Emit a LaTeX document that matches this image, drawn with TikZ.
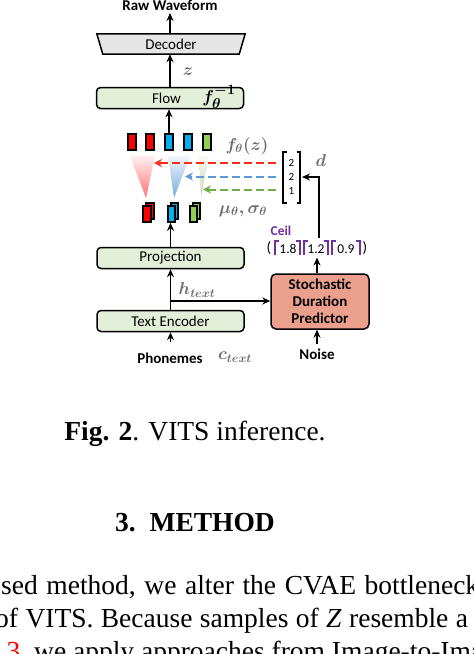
\documentclass[tikz,border=0pt]{standalone}
\usepackage{fontspec}
\setmainfont{Liberation Serif}
\newfontfamily\diafont{Carlito}
\usetikzlibrary{arrows.meta}
\definecolor{boxgreen}{HTML}{E2F0D9}
\definecolor{decgray}{HTML}{E7E6E6}
\definecolor{sdpred}{HTML}{EBA08E}
\definecolor{cred}{HTML}{FF0000}
\definecolor{cblue}{HTML}{00B0F0}
\definecolor{cgreen}{HTML}{92D050}
\definecolor{dred}{HTML}{FF2A1A}
\definecolor{dblue}{HTML}{5B9BD5}
\definecolor{dgreen}{HTML}{70AD47}
\definecolor{ceilpurple}{HTML}{7030A0}
\definecolor{mathgray}{HTML}{6E6E6E}
\begin{document}
\begin{tikzpicture}[x=1pt,y=-1pt,
  box/.style={draw=black, line width=1.5pt, rounded corners=4pt, fill=boxgreen,
    minimum width=147pt, minimum height=21pt, inner sep=0pt,
    font=\diafont\fontsize{15}{18}\selectfont},
  lbl/.style={inner sep=0pt, font=\diafont\fontsize{15}{18}\selectfont},
  blbl/.style={inner sep=0pt, font=\diafont\bfseries\fontsize{15}{18}\selectfont},
  mlbl/.style={inner sep=0pt, text=mathgray, font=\fontsize{17}{20}\selectfont\boldmath},
  arr/.style={line width=1.6pt, -{Stealth[length=8pt,width=7pt]}},
  vecbox/.style={draw=black, line width=1.8pt, minimum width=7.5pt, minimum height=16pt, inner sep=0pt},
  dsh/.style={line width=2pt, dash pattern=on 8pt off 4pt, -{Stealth[length=8pt,width=8pt]}},
  ceilbr/.style={draw=ceilpurple, line width=2pt},
  matbr/.style={draw=black, line width=1.8pt},
  num/.style={inner sep=0pt, font=\diafont\fontsize{13.5}{16}\selectfont},
  body/.style={inner sep=0pt, anchor=base west, font=\fontsize{27.5}{33}\selectfont}
]
\useasboundingbox (0,0) rectangle (474,654);
\clip (0,0) rectangle (474,654);
\fill[white] (0,0) rectangle (474,654);

% ---- top: raw waveform and decoder
\node[blbl, anchor=base] (raw) at (170,10.5) {Raw Waveform};
\coordinate (rawbot) at (170,13);
\node[lbl, minimum width=146pt, minimum height=20pt] (dec) at (171,44) {};
\draw[line width=1.5pt, fill=decgray] ([xshift=-1pt]dec.north west) -- ([xshift=1pt]dec.north east) -- ([xshift=-5pt]dec.south east) -- ([xshift=5pt]dec.south west) -- cycle;
\node[lbl] (dectxt) at (171,44) {Decoder};
\draw[arr] (dec.north -| rawbot) -- (rawbot);

% ---- flow
\node[box] (flow) at (170,98) {};
\node[lbl] (flowtxt) at (166.5,98) {Flow};
\node[inner sep=0pt, font=\fontsize{19}{20}\selectfont\boldmath] (finv) at (219,97) {$f_\theta^{-1}$};
\draw[arr] (flow.north) -- (flow.north |- dec.south);
\node[mlbl] (zlbl) at (188,72) {$z$};

% ---- top row of vectors
\node[vecbox, fill=cred]   (r1) at (132,142) {};
\node[vecbox, fill=cred]   (r2) at (150,142) {};
\node[vecbox, fill=cblue]  (r3) at (169,142) {};
\node[vecbox, fill=cblue]  (r4) at (188,142) {};
\node[vecbox, fill=cgreen] (r5) at (207,142) {};
\draw[arr] (r3.north) -- (r3.north |- flow.south);
\node[mlbl, font=\fontsize{18}{20}\selectfont\boldmath] (fz) at (247,146) {$f_\theta(z)$};

% ---- shaded triangles
\shade[top color=red!6, bottom color=red!55] (130,156) -- (155,156) -- (146,198) -- cycle;
\shade[top color=dblue!8, bottom color=dblue!85] (168,156) -- (190,156) -- (174,198) -- cycle;
\shade[top color=dgreen!6, bottom color=dgreen!45] (199,156) -- (209,156) -- (201,197) -- cycle;

% ---- duration matrix
\node[num, font=\diafont\fontsize{11}{13}\selectfont] (m1) at (291.5,163) {2};
\node[num, font=\diafont\fontsize{11}{13}\selectfont] (m2) at (291.5,177) {2};
\node[num, font=\diafont\fontsize{11}{13}\selectfont] (m3) at (291.5,191) {1};
\draw[matbr] (286.5,152) -- (283,152) -- (283,203) -- (286.5,203);
\draw[matbr] (296.5,152) -- (300,152) -- (300,203) -- (296.5,203);
\node[mlbl] (dlbl) at (321,160) {$d$};

% ---- dashed arrows
\coordinate (ds1) at (276,163); \coordinate (de1) at (154,163);
\coordinate (ds2) at (276,176.5); \coordinate (de2) at (185,176.5);
\coordinate (ds3) at (276,189.5); \coordinate (de3) at (203,189.5);
\draw[dsh, dred] (ds1) -- (de1);
\draw[dsh, dblue] (ds2) -- (de2);
\draw[dsh, dgreen] (ds3) -- (de3);

% ---- stacked mu/sigma pairs
\foreach \x/\c/\n in {147/cred/pr, 171.5/cblue/pb, 193.5/cgreen/pg}{
  \node[vecbox, fill=\c] (\n back) at (\x+3,211) {};
  \node[vecbox, fill=\c] (\n) at (\x,214) {};
}
\node[mlbl] (musig) at (243,211) {$\mu_\theta,\sigma_\theta$};

% ---- projection & text encoder
\node[box] (proj) at (170.5,258) {Projection};
\node[box] (te) at (170.5,321) {Text Encoder};
\draw[arr] (proj.north) -- (proj.north |- pb.south);
\draw[arr] (te.north) -- (proj.south);
\coordinate (branch) at (170.5,301);
\node[mlbl] (htext) at (197,290) {$h_{text}$};

% ---- stochastic duration predictor
\node[draw=black, line width=1.5pt, rounded corners=5pt, fill=sdpred,
  minimum width=98pt, minimum height=55pt, inner sep=0pt, align=center,
  font=\diafont\bfseries\fontsize{15}{17}\selectfont] (sdp) at (320,301.5)
  {Stochastic\\Duration\\Predictor};
\draw[arr] (branch) -- (sdp.west |- branch);

% ---- inputs
\node[blbl] (phon) at (170,358) {Phonemes};
\coordinate (phontop) at (170.5,342);
\draw[arr] (phontop) -- (te.south);
\node[mlbl] (ctext) at (235,357) {$c_{text}$};
\node[blbl] (noise) at (317,354) {Noise};
\coordinate (noisetop) at (317,344);
\draw[arr] (noisetop) -- (noisetop |- sdp.south);

% ---- ceil vector
\node[blbl, text=ceilpurple, font=\diafont\bfseries\fontsize{13.5}{16}\selectfont] (ceil) at (281,231) {Ceil};
\node[lbl] (lpar) at (269,248) {(};
\node[lbl] (rpar) at (365,248) {)};
\node[num] (c1) at (288,249) {1.8};
\node[num] (c2) at (316,249) {1.2};
\node[num] (c3) at (346,249) {0.9};
\foreach \L/\R in {275/300, 304/328, 332/360}{
  \draw[ceilbr] (\L+4,240.5) -- (\L,240.5) -- (\L,255);
  \draw[ceilbr] (\R-4,240.5) -- (\R,240.5) -- (\R,255);
}
\coordinate (vecbot) at (317,257.5);
\draw[arr] (sdp.north -| vecbot) -- (vecbot);
\coordinate (vectop) at (319,238);
\coordinate (matin) at (302,177);
\draw[arr] (vectop) |- (matin);

% ---- caption and text
\node[inner sep=0pt, anchor=base, font=\fontsize{27.5}{33}\selectfont] (cap) at (195,440) {\textbf{Fig. 2}. VITS inference.};
\node[inner sep=0pt, anchor=base, font=\fontsize{27.5}{33}\selectfont\bfseries] (sec) at (195,531) {3.\hspace{0.5em}METHOD};
\node[body] (l1) at (1,594) {\spaceskip=8.6pt plus 0pt minus 0pt sed method, we alter the CVAE bottleneck};
\node[body] (l2) at (-5,627) {\spaceskip=7.4pt plus 0pt minus 0pt of VITS. Because samples of \textit{Z} resemble a};
\node[body] (l3) at (6.5,660) {\textcolor{red}{3}, we apply approaches from Image-to-Image};
\end{tikzpicture}
\end{document}
